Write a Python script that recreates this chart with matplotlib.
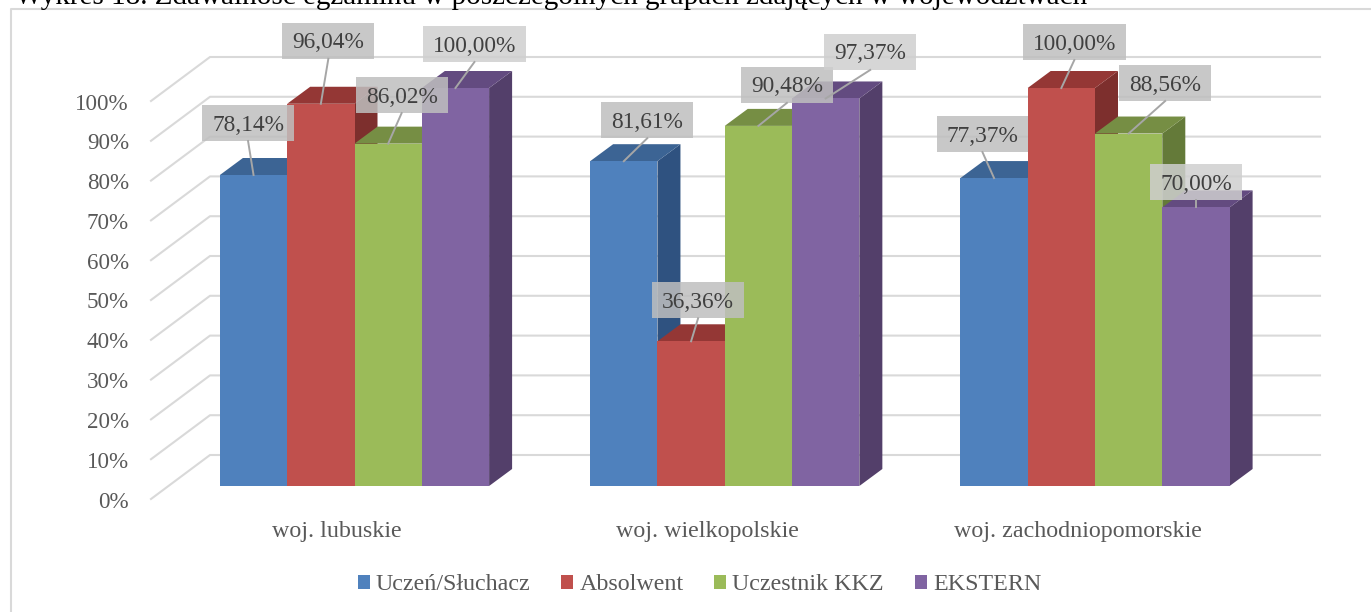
#!/usr/bin/env python3
"""Zdawalnosc egzaminu - pseudo 3D clustered bars, wojewodztwa."""

import matplotlib
matplotlib.use('Agg')
import numpy as np
import matplotlib.pyplot as plt
from matplotlib.patches import Polygon, Rectangle, Patch

plt.rcParams['font.family'] = ['Liberation Serif', 'DejaVu Serif']

# Data
categories = ['woj. lubuskie', 'woj. wielkopolskie', 'woj. zachodniopomorskie']
series = ['Uczeń/Słuchacz', 'Absolwent', 'Uczestnik KKZ', 'EKSTERN']
uczen = [78.14, 81.61, 77.37]
absolwent = [96.04, 36.36, 100.00]
kkz = [86.02, 90.48, 88.56]
ekstern = [100.00, 97.37, 70.00]
y_ticks = [0, 10, 20, 30, 40, 50, 60, 70, 80, 90, 100]
title = 'Wykres 18. Zdawalność egzaminu w poszczególnych grupach zdających w województwach'

# Styles: front, top, side
front_colors = ['#4f81bd', '#c0504d', '#9bbb59', '#8064a2']
top_colors = ['#3c6494', '#943735', '#768e44', '#634b80']
side_colors = ['#2f5280', '#7d2f2d', '#647a39', '#533f6a']

# Label box centres, pixel offset from the bar's front top centre (x, up)
label_offsets = [
    [(-5.5, 52), (23.5, 41), (-11.6, 44)],
    [(7.5, 63), (7, 41), (13, 46)],
    [(13.5, 48.6), (28.5, 41), (36.5, 50.5)],
    [(19, 44), (44.5, 46.5), (0, 25)],
]

W, H = 1371, 612
PX_X = 370.25          # px per category
PX_Y = 3.98            # px per percent
X0, X1 = 151, 1320     # wall extent
Y0, Y100 = 486, 88     # front plane of the bars
GC = 354.5             # px position of first category
BAR = 67.3 / PX_X
DX, DY = 23 / PX_X, 17 / PX_Y
WALL_BACK = (455 - Y0) / -PX_Y     # back wall offset (percent)
WALL_FRONT = (499 - Y0) / -PX_Y    # front of the floor
XL_BACK = (210 - GC) / PX_X
XL_FRONT = (X0 - GC) / PX_X
XR = (X1 - GC) / PX_X

fig = plt.figure(figsize=(W / 100, H / 100), dpi=100)
ax = fig.add_axes([X0 / W, 1 - Y0 / H, (X1 - X0) / W, (Y0 - Y100) / H])
for s in ax.spines.values():
    s.set_visible(False)
ax.patch.set_alpha(0)

x_base = np.arange(len(categories))

ax.set_xticks(x_base - 17.5 / PX_X, categories)
ax.set_yticks([])
ax.tick_params(axis='x', length=0, pad=25.2, labelsize=17.25, labelcolor='#595959')
ax.set_xlim(XL_FRONT, XR)
ax.set_ylim(0, 100)

# y labels sit on the front edge of the floor, 0% is below the axes
for t in y_ticks:
    ax.annotate(f'{t}%', xy=(XL_FRONT, t + WALL_FRONT), xytext=(-22, -3),
                textcoords='offset pixels', ha='right', va='center', fontsize=16.6,
                color='#595959', annotation_clip=False)

# frame of the chart object
fig.add_artist(plt.Line2D([11 / W, 11 / W, 1], [0, 1 - 8.5 / H, 1 - 8.5 / H],
                          color='#d9d9d9', lw=1.5))
fig.text(15 / W, 1 - 4 / H, title, fontsize=21.0, color='black', va='baseline', ha='left')

# gridlines on the walls
for t in y_ticks:
    ax.plot([XL_FRONT, XL_BACK, XR], [t + WALL_FRONT, t + WALL_BACK, t + WALL_BACK],
            color='#d9d9d9', lw=1.5, clip_on=False, zorder=1)

# bars
all_vals = [uczen, absolwent, kkz, ekstern]
for i, vals in enumerate(all_vals):
    xs = x_base + (i - 2) * BAR
    for x, v in zip(xs, vals):
        ax.add_patch(Polygon([(x + BAR, 0), (x + BAR + DX, DY), (x + BAR + DX, v + DY), (x + BAR, v)],
                             fc=side_colors[i], ec='none', zorder=2 + i, clip_on=False))
        ax.add_patch(Polygon([(x, v), (x + DX, v + DY), (x + BAR + DX, v + DY), (x + BAR, v)],
                             fc=top_colors[i], ec='none', zorder=2 + i, clip_on=False))
    ax.bar(xs, vals, width=BAR, align='edge', color=front_colors[i], zorder=2 + i, clip_on=False)

# data labels with leader lines
renderer = fig.canvas.get_renderer()
for i, vals in enumerate(all_vals):
    for j, v in enumerate(vals):
        x = x_base[j] + (i - 2) * BAR + BAR / 2
        px, py = ax.transData.transform((x, v))
        ox, oy = label_offsets[i][j]
        cx, cy = px + ox, py + oy
        txt = ax.text(cx, cy - 2, f'{v:.2f}%'.replace('.', ','), transform=None, fontsize=16.8,
                      color='#404040', ha='center', va='center', zorder=22, clip_on=False)
        w = txt.get_window_extent(renderer).width + 20
        fc = '#cfcfcf' if i == 3 else '#bfbfbf'
        ax.add_patch(Rectangle((cx - w / 2, cy - 18), w, 36, transform=None, fc=fc, ec='none',
                               alpha=0.85, zorder=20, clip_on=False))
        ax.plot([px, cx], [py, cy - 18], transform=None, color='#a6a6a6', lw=1.4, zorder=21,
                clip_on=False)

handles = [Patch(fc=c, ec='none', label=s) for c, s in zip(front_colors, series)]
fig.legend(handles=handles, loc='center', bbox_to_anchor=(699.5 / W, 1 - 585 / H), ncol=4,
           frameon=False, fontsize=17.3, labelcolor='#595959', handlelength=0.5, handleheight=0.5,
           handletextpad=0.25, columnspacing=1.29, borderpad=0, borderaxespad=0)

fig.savefig('out.png', dpi=100)
